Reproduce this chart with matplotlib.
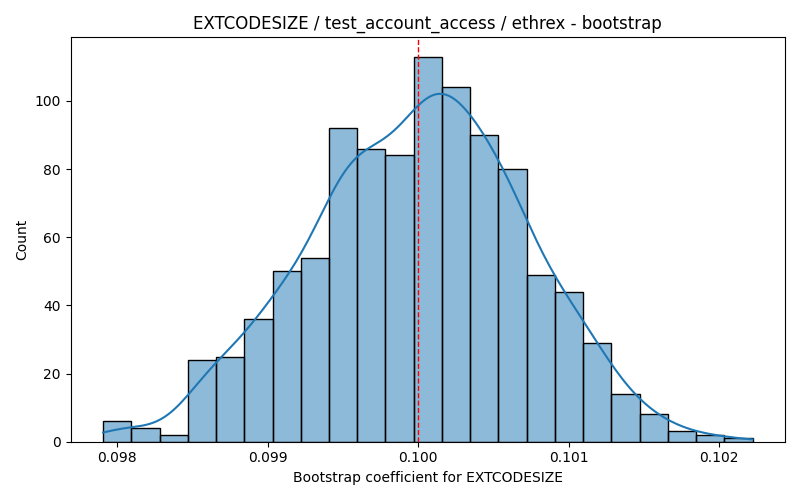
import numpy as np
import pandas as pd
import matplotlib
matplotlib.use("Agg")
import matplotlib.pyplot as plt
import seaborn as sns

# bootstrap histogram
lo, hi = 0.097907, 0.102222
counts = [6, 4, 2, 24, 25, 36, 50, 54, 92, 86, 84, 113,
          104, 90, 80, 49, 44, 29, 14, 8, 3, 2, 1]
true_value = 0.100

edges = np.linspace(lo, hi, len(counts) + 1)
centers = (edges[:-1] + edges[1:]) / 2
df = pd.DataFrame({"coef": centers, "n": counts})

# weighted kde uses the effective sample size, so shrink the bandwidth
# back to what ~1000 raw samples would give
w = np.asarray(counts, dtype=float)
n_eff = w.sum() ** 2 / (w ** 2).sum()
bw = (w.sum() ** -0.2) / (n_eff ** -0.2)

fig, ax = plt.subplots(figsize=(8, 5), dpi=100)
sns.histplot(data=df, x="coef", weights="n", bins=len(counts),
             binrange=(lo, hi), kde=True,
             kde_kws={"bw_adjust": bw, "cut": 1, "clip": (lo, hi)}, ax=ax)
ax.axvline(true_value, color="red", linestyle="--", linewidth=1)
ax.set_title("EXTCODESIZE / test_account_access / ethrex - bootstrap")
ax.set_xlabel("Bootstrap coefficient for EXTCODESIZE")
ax.set_ylabel("Count")
fig.tight_layout()
fig.savefig("out.png")
